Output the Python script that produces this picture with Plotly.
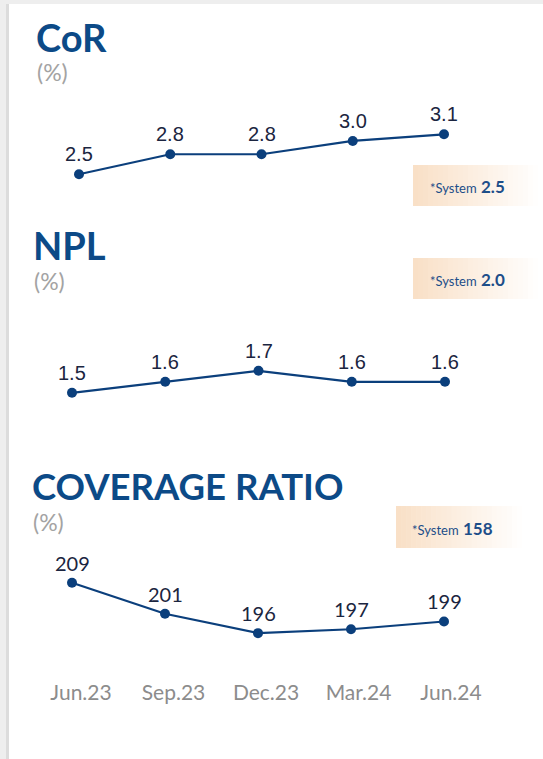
import plotly.graph_objects as go

# ---------------------------------------------------------------------------
# Data
# ---------------------------------------------------------------------------
quarters = ["Jun.23", "Sep.23", "Dec.23", "Mar.24", "Jun.24"]
cor_values = [2.5, 2.8, 2.8, 3.0, 3.1]
npl_values = [1.5, 1.6, 1.7, 1.6, 1.6]
coverage_values = [209, 201, 196, 197, 199]

panel_titles = ["CoR", "NPL", "COVERAGE RATIO"]
panel_units = ["(%)", "(%)", "(%)"]
system_values = ["2.5", "2.0", "158"]

# ---------------------------------------------------------------------------
# Style
# ---------------------------------------------------------------------------
W, H = 543, 759
NAVY = "#0b3f7c"
TITLE_BLUE = "#0c4a87"
LABEL_DARK = "#1b2540"
GREY = "#a3a3a3"
TICK_GREY = "#8c8c8c"
PEACH = (249, 224, 199)


def fx(px):
    return px / W


def fy(py):
    return 1 - py / H


def x_range(p_first, p_last, n=5):
    # category index range so that first/last points land on given pixels
    step = (p_last - p_first) / (n - 1)
    r0 = -p_first / step
    return [r0, r0 + W / step]


# panel geometry (pixels from top) and value ranges
panels = [
    dict(values=cor_values, top=100, bottom=200, yr=[2.113, 3.615],
         xr=x_range(79, 444), font="Liberation Sans",
         title_y=37, unit_y=72, title_x=34, title_size=38,
         box=(413, 543, 165, 206), box_text_x=428),
    dict(values=npl_values, top=320, bottom=420, yr=[1.253, 2.162],
         xr=x_range(72, 445), font="Liberation Sans",
         title_y=245, unit_y=281, title_x=31, title_size=38,
         box=(413, 543, 258, 299), box_text_x=428),
    dict(values=coverage_values, top=560, bottom=670, yr=[186.5, 214.84],
         xr=x_range(72, 444), font="Lato",
         title_y=486, unit_y=522, title_x=30, title_size=36.5,
         box=(396, 527, 506, 548), box_text_x=410),
]

fig = go.Figure()
annotations = []
shapes = []

# card background
shapes.append(dict(type="rect", xref="paper", yref="paper",
                   x0=fx(6), x1=fx(9), y0=0, y1=fy(4),
                   fillcolor="#dcdcdc", line_width=0, layer="below"))
shapes.append(dict(type="rect", xref="paper", yref="paper",
                   x0=fx(9), x1=1, y0=0, y1=fy(4),
                   fillcolor="white", line_width=0, layer="below"))

for i, p in enumerate(panels):
    n = "" if i == 0 else str(i + 1)
    xa, ya = "x" + n, "y" + n

    fig.add_trace(go.Scatter(
        x=quarters, y=p["values"], xaxis=xa, yaxis=ya,
        mode="lines+markers",
        line=dict(color=NAVY, width=2.2),
        marker=dict(color=NAVY, size=10),
        hoverinfo="skip", showlegend=False,
    ))

    for q, v in zip(quarters, p["values"]):
        annotations.append(dict(
            x=q, y=v, xref=xa, yref=ya, text=str(v), showarrow=False,
            yshift=20, font=dict(family=p["font"], size=20, color=LABEL_DARK),
        ))

    fig.layout["xaxis" + n] = dict(
        domain=[0, 1], anchor=ya, range=p["xr"], type="category",
        categoryorder="array", categoryarray=quarters,
        visible=False, fixedrange=True,
    )
    fig.layout["yaxis" + n] = dict(
        domain=[fy(p["bottom"]), fy(p["top"])], anchor=xa, range=p["yr"],
        visible=False, fixedrange=True,
    )

    # titles
    annotations.append(dict(
        x=fx(p["title_x"]), y=fy(p["title_y"]), xref="paper", yref="paper",
        xanchor="left", yanchor="middle", showarrow=False,
        text="<b>" + panel_titles[i] + "</b>",
        font=dict(family="Lato", size=p["title_size"], color=TITLE_BLUE),
    ))
    annotations.append(dict(
        x=fx(p["title_x"] + 1), y=fy(p["unit_y"]), xref="paper", yref="paper",
        xanchor="left", yanchor="middle", showarrow=False,
        text=panel_units[i],
        font=dict(family="Lato", size=23, color=GREY),
    ))

    # "System" box with fading peach gradient
    bx0, bx1, by0, by1 = p["box"]
    steps = 26
    for k in range(steps):
        t = k / (steps - 1)
        c = [round(PEACH[j] + (255 - PEACH[j]) * t) for j in range(3)]
        shapes.append(dict(
            type="rect", xref="paper", yref="paper",
            x0=fx(bx0 + (bx1 - bx0) * k / steps),
            x1=fx(bx0 + (bx1 - bx0) * (k + 1) / steps + 0.6),
            y0=fy(by1), y1=fy(by0),
            fillcolor="rgb(%d,%d,%d)" % tuple(c), line_width=0, layer="below",
        ))
    annotations.append(dict(
        x=fx(p["box_text_x"]), y=fy((by0 + by1) / 2 + 1), xref="paper", yref="paper",
        xanchor="left", yanchor="middle", showarrow=False,
        text="<span style='font-size:13px'>*System</span> <b>" + system_values[i] + "</b>",
        font=dict(family="Lato", size=17, color="#1d4e89"),
    ))

# bottom quarter labels on their own axis
fig.add_trace(go.Scatter(x=[], y=[], xaxis="x4", yaxis="y3", showlegend=False))
fig.update_layout(
    xaxis4=dict(
        overlaying="x3", anchor="free", position=fy(678), range=x_range(81, 451),
        tickmode="array", tickvals=list(range(len(quarters))), ticktext=quarters,
        showgrid=False, zeroline=False, showline=False, ticks="",
        tickfont=dict(family="Lato", size=21, color=TICK_GREY), fixedrange=True,
    ),
)

fig.update_layout(
    width=W, height=H,
    margin=dict(l=0, r=0, t=0, b=0),
    paper_bgcolor="#eeeeee",
    plot_bgcolor="rgba(0,0,0,0)",
    showlegend=False,
    annotations=annotations,
    shapes=shapes,
)

fig.write_html(
    "out.html",
    config={"displayModeBar": False},
    post_script="document.body.style.margin='0';",
)
